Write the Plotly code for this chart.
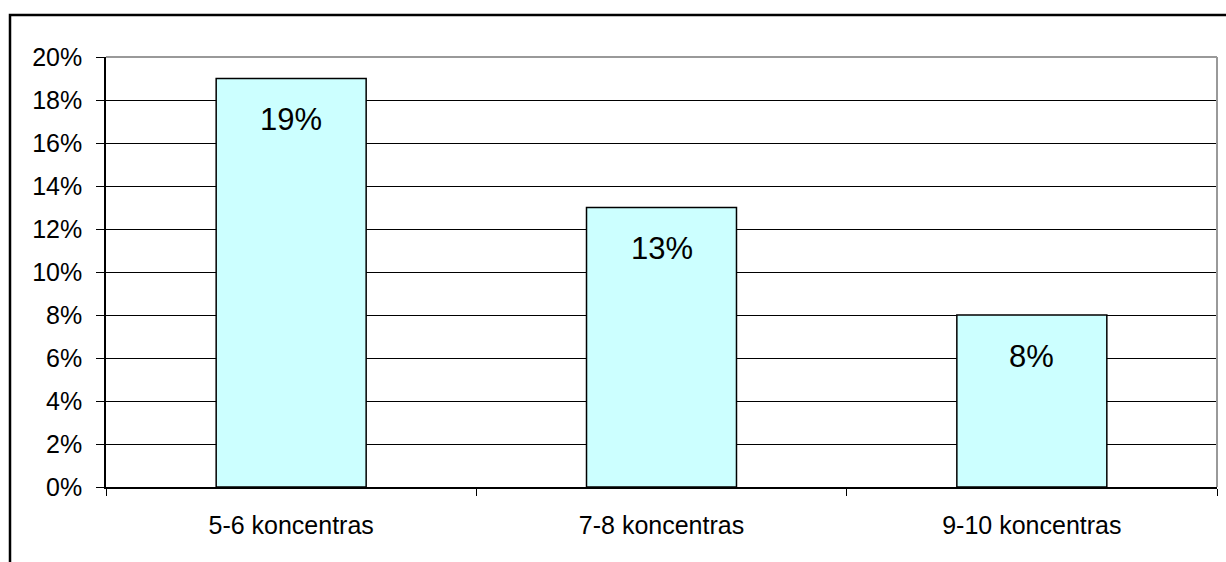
import plotly.graph_objects as go

categories = ["5-6 koncentras", "7-8 koncentras", "9-10 koncentras"]
values = [0.19, 0.13, 0.08]
labels = ["19%", "13%", "8%"]

W, H = 1226, 562
L, R, T, B = 106, 9, 57, 75
pw, ph = W - L - R, H - T - B

def px_x(px):
    return (px - L) / pw

def px_y(py):
    return (H - B - py) / ph

fig = go.Figure()
fig.add_trace(go.Bar(
    x=categories, y=values,
    marker=dict(color="#CCFFFF", line=dict(color="#000000", width=1.5)),
    width=0.405,
    hoverinfo="skip",
))

for c, v, t in zip(categories, values, labels):
    fig.add_annotation(x=c, y=v, text=t, showarrow=False, yanchor="middle",
                       yshift=-41, font=dict(family="Liberation Sans, Arial", size=31, color="#000"))

fig.update_layout(
    width=W, height=H,
    margin=dict(l=L, r=R, t=T, b=B),
    paper_bgcolor="white", plot_bgcolor="white",
    showlegend=False,
    font=dict(family="Liberation Sans, Arial", color="#000"),
    xaxis=dict(
        type="category", tickson="boundaries", ticks="outside", ticklen=7,
        tickcolor="#000", tickwidth=1, showgrid=False, showline=True,
        linecolor="#000", linewidth=1.5, range=[-0.5, 2.5],
        tickfont=dict(size=25), ticklabelstandoff=15,
    ),
    yaxis=dict(
        range=[0, 0.2], dtick=0.02, tickformat=".0%", ticks="outside", ticklen=8,
        tickcolor="#000", tickwidth=1, showgrid=True, gridcolor="#000", gridwidth=1,
        showline=True, linecolor="#000", linewidth=1.5, zeroline=False,
        tickfont=dict(size=25), ticklabelstandoff=9,
    ),
    shapes=[
        dict(type="line", xref="paper", yref="paper", x0=1, x1=1, y0=0, y1=1,
             line=dict(color="#999999", width=2)),
        dict(type="line", xref="paper", yref="paper", x0=0, x1=1, y0=1, y1=1,
             line=dict(color="#999999", width=2)),
        dict(type="rect", xref="paper", yref="paper",
             x0=px_x(10), x1=px_x(1240), y0=px_y(580), y1=px_y(15),
             line=dict(color="#000", width=2.5), fillcolor="rgba(0,0,0,0)", layer="above"),
    ],
)

fig.write_html("out.html")
